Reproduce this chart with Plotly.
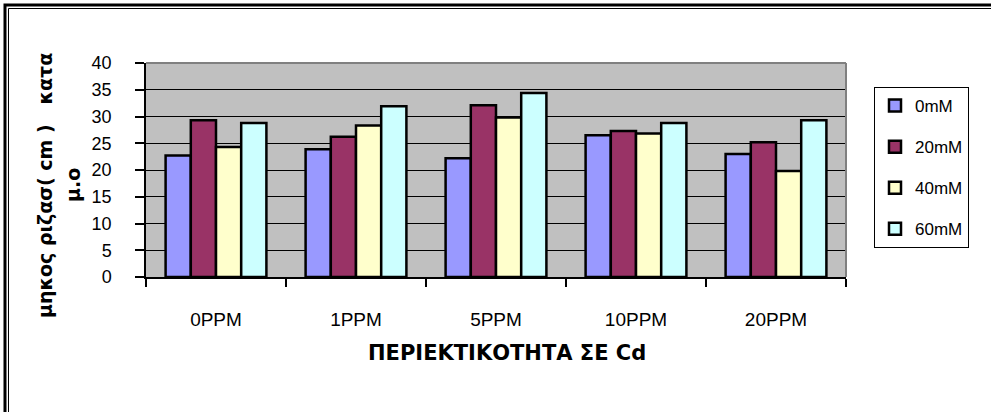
import plotly.graph_objects as go

# Root length (cm, mean) by Cd content, for each NaCl level
categories = ["0PPM", "1PPM", "5PPM", "10PPM", "20PPM"]
series_names = ["0mM", "20mM", "40mM", "60mM"]
vals_0mM = [22.7, 23.9, 22.2, 26.5, 23.0]
vals_20mM = [29.3, 26.2, 32.1, 27.3, 25.2]
vals_40mM = [24.3, 28.3, 29.8, 26.8, 19.8]
vals_60mM = [28.8, 31.9, 34.4, 28.8, 29.3]
y_ticks = [0, 5, 10, 15, 20, 25, 30, 35, 40]

series_values = [vals_0mM, vals_20mM, vals_40mM, vals_60mM]
colors = ["#9999FF", "#993366", "#FFFFCC", "#CCFFFF"]

W, H = 991, 412
L, R, T, B = 146, 145, 63, 135
PW, PH = W - L - R, H - T - B


def px(x):
    return (x - L) / PW


def py(y):
    return (H - B - y) / PH


fig = go.Figure()
for i, (name, vals, col) in enumerate(zip(series_names, series_values, colors)):
    fig.add_trace(go.Bar(
        x=categories, y=vals, name=name, legendgroup=name,
        marker=dict(color=col, line=dict(color="black", width=2.5)),
    ))

font_reg = "Liberation Sans, Arial, sans-serif"
font_bold = "DejaVu Sans, Arial, sans-serif"

fig.update_layout(
    width=W, height=H,
    margin=dict(l=L, r=R, t=T, b=B, autoexpand=False),
    paper_bgcolor="white",
    plot_bgcolor="#C0C0C0",
    barmode="group",
    bargap=0.28,
    bargroupgap=0,
    showlegend=True,
    legend=dict(
        x=px(874), y=py(87), xanchor="left", yanchor="top",
        bgcolor="white", bordercolor="black", borderwidth=1,
        font=dict(family=font_reg, size=17, color="black"),
        tracegroupgap=16, itemwidth=30,
    ),
    xaxis=dict(
        type="category", tickson="boundaries", ticks="outside", ticklen=8,
        tickcolor="black", tickwidth=1.5, showline=True, linecolor="black",
        linewidth=1.5, showgrid=False, ticklabelstandoff=24,
        tickfont=dict(family=font_reg, size=19, color="black"),
        range=[-0.5, 4.5],
    ),
    yaxis=dict(
        range=[0, 40], tickvals=y_ticks, ticks="outside", ticklen=9,
        tickcolor="black", tickwidth=1.5, showline=True, linecolor="black",
        linewidth=1.5, showgrid=True, gridcolor="black", gridwidth=1,
        zeroline=False, ticklabelstandoff=20,
        tickfont=dict(family=font_reg, size=18, color="black"),
    ),
)

# Plot-area frame on the top and right sides
fig.add_shape(type="line", xref="paper", yref="paper", x0=0, x1=1, y0=1, y1=1,
              line=dict(color="#808080", width=2))
fig.add_shape(type="line", xref="paper", yref="paper", x0=1, x1=1, y0=0, y1=1,
              line=dict(color="#808080", width=2))

# Double border along the top and left of the chart area
for off, lw in [(5, 3), (8.5, 1)]:
    path = "M {:.5f},{:.5f} L {:.5f},{:.5f} L {:.5f},{:.5f}".format(
        px(off), py(H + 30), px(off), py(off), px(W + 30), py(off))
    fig.add_shape(type="path", xref="paper", yref="paper", path=path,
                  fillcolor="rgba(0,0,0,0)",
                  line=dict(color="black", width=lw))

# Axis titles
fig.add_annotation(xref="paper", yref="paper", x=px(507), y=py(353),
                   xanchor="center", yanchor="middle",
                   text="<b>ΠΕΡΙΕΚΤΙΚΟΤΗΤΑ ΣΕ Cd</b>", showarrow=False,
                   font=dict(family=font_bold, size=21, color="black"))
fig.add_annotation(xref="paper", yref="paper", x=px(45), y=py(186),
                   xanchor="center", yanchor="middle",
                   text="<b>μηκος ριζασ( cm )   κατα</b>", showarrow=False,
                   textangle=-90,
                   font=dict(family=font_bold, size=19, color="black"))
fig.add_annotation(xref="paper", yref="paper", x=px(73), y=py(185),
                   xanchor="center", yanchor="middle",
                   text="<b>μ.ο</b>", showarrow=False, textangle=-90,
                   font=dict(family=font_bold, size=19, color="black"))

fig.write_html("out.html")
